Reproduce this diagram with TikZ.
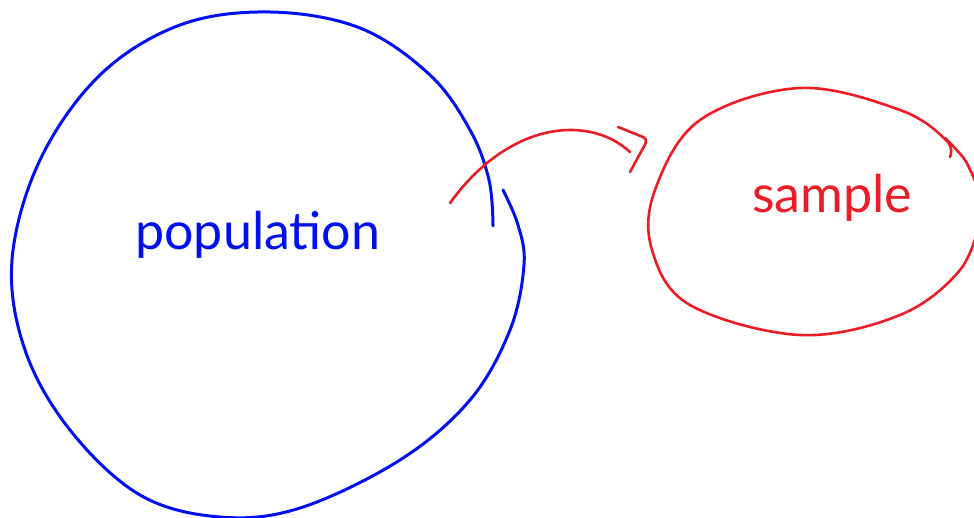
\documentclass[tikz,border=0pt]{standalone}
\usepackage{fontspec}
\setsansfont{Lato}
\usepackage{tikz}
\definecolor{penblue}{HTML}{0010F0}
\definecolor{penred}{HTML}{EC1C24}
\tikzset{sk/.style={x=1pt,y=-1pt,line cap=round,line join=round},
  bluepen/.style={penblue,line width=3pt},
  redpen/.style={penred,line width=2.6pt},
  hand/.style={font=\sffamily\fontsize{52}{52}\selectfont,inner sep=0pt,anchor=base west}}

\begin{document}
\begin{tikzpicture}[sk]
  \useasboundingbox (0,0) rectangle (974,518);
  \clip (0,0) rectangle (974,518);
  % population (blue)
  \draw[bluepen] plot[smooth,tension=.6] coordinates {(493,226) (489,180) (470,130) (430,75) (360,28) (270,12) (180,25) (100,75) (40,160) (12,260) (25,350) (70,430) (140,495) (220,517) (300,508) (400,460) (470,400) (510,330) (524,265) (518,225) (503,190)};
  \node[hand,penblue] (pop) at (135,250) {population};
  % sample (red)
  \draw[redpen] plot[smooth,tension=.6] coordinates {(950,157) (946,140) (900,110) (800,88) (700,120) (655,190) (652,250) (690,305) (800,335) (900,315) (960,270) (980,220)};
  \draw[redpen] plot[smooth] coordinates {(945,138) (965,160) (978,188)};
  \node[hand,penred] (smp) at (752,213) {sample};
  % arrow
  \coordinate (from) at (450,203);
  \coordinate (to) at (630,152);
  \draw[redpen] (from) .. controls (510,120) and (590,115) .. (to);
  \draw[redpen,rounded corners=5pt] (618,127) -- (648,139) -- (630,172);
\end{tikzpicture}
\end{document}
